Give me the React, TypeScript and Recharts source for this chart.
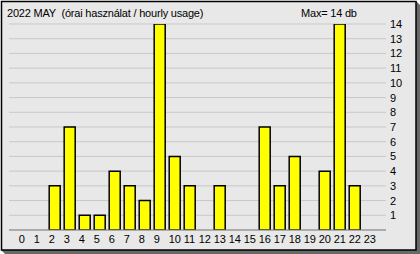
import React from 'react';
import { BarChart, Bar, XAxis, YAxis, CartesianGrid } from 'recharts';

const hours: string[] = ['0','1','2','3','4','5','6','7','8','9','10','11','12','13','14','15','16','17','18','19','20','21','22','23'];
const usage: number[] = [0,0,3,7,1,1,4,3,2,14,5,3,0,3,0,0,7,3,5,0,4,14,3,0];
const yTicks: number[] = [1,2,3,4,5,6,7,8,9,10,11,12,13,14];
const titleText = '2022 MAY  (órai használat / hourly usage)';
const maxText = 'Max= 14 db';

const data = hours.map((h, i) => ({ hour: h, value: usage[i] }));

const FONT = '"Liberation Sans", Arial, sans-serif';

const XTick = (props: any) => {
  const { x, y, payload } = props;
  return (
    <text x={x - 6} y={y + 13} fontFamily={FONT} fontSize={11} fill="#000" textAnchor="start">
      {payload.value}
    </text>
  );
};

const YTick = (props: any) => {
  const { x, y, payload } = props;
  return (
    <text x={x} y={y + 4} fontFamily={FONT} fontSize={11} fill="#000" textAnchor="start">
      {payload.value}
    </text>
  );
};

export default function App() {
  return (
    <div style={{ position: 'absolute', left: 0, top: 0, width: 420, height: 254, background: '#fff' }}>
      <svg width={420} height={254} style={{ position: 'absolute', left: 0, top: 0 }}>
        <polygon points="416,1 420,5 420,254 5,254 1,250 416,250" fill="#696969" />
        <rect x={1.5} y={1.5} width={414.5} height={248.5} fill="#e8e8e8" stroke="#000" strokeWidth={1.5} />
        <text x={7} y={17} fontFamily={FONT} fontSize={11} letterSpacing={-0.2} fill="#000" style={{ whiteSpace: 'pre' }}>
          {titleText}
        </text>
        <text x={301} y={17} fontFamily={FONT} fontSize={11} letterSpacing={-0.2} fill="#000" style={{ whiteSpace: 'pre' }}>
          {maxText}
        </text>
      </svg>
      <div style={{ position: 'absolute', left: 0, top: 0 }}>
        <BarChart width={420} height={254} data={data} margin={{ top: 24, right: 0, left: 9, bottom: 0 }} barSize={11}>
          <CartesianGrid horizontal vertical={false} stroke="#c8c8c8" strokeWidth={1} />
          <XAxis
            dataKey="hour"
            height={24}
            padding={{ left: 8.2, right: 8.8 }}
            axisLine={{ stroke: '#808080', strokeWidth: 1 }}
            tickLine={false}
            tickSize={0}
            tickMargin={0}
            interval={0}
            tick={<XTick />}
          />
          <YAxis
            orientation="right"
            width={34}
            domain={[0, 14]}
            ticks={yTicks}
            allowDataOverflow
            axisLine={false}
            tickLine={false}
            tickSize={0}
            tickMargin={4}
            interval={0}
            tick={<YTick />}
          />
          <Bar dataKey="value" fill="#ffff00" stroke="#000" strokeWidth={1.5} isAnimationActive={false} />
        </BarChart>
      </div>
    </div>
  );
}
